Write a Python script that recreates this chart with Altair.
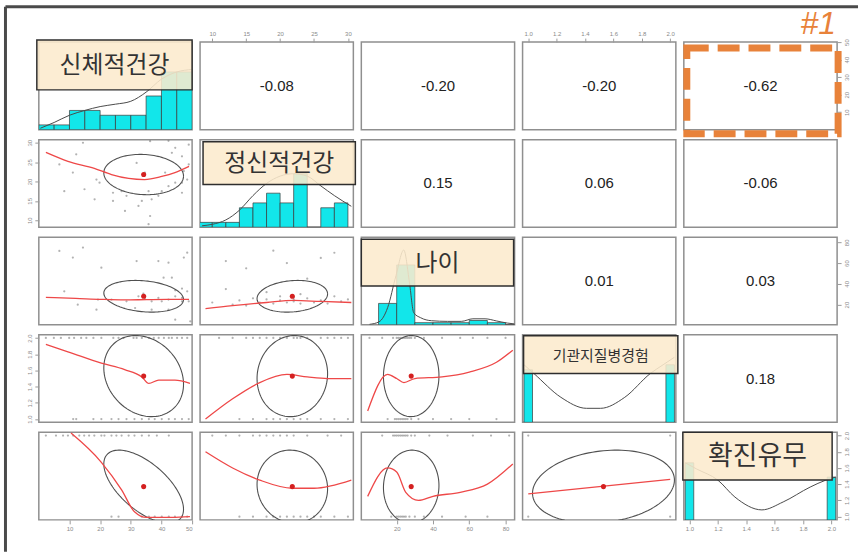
import altair as alt
import numpy as np
import pandas as pd

# ---------------------------------------------------------------------------
# Variables, plotting ranges and axis ticks
# ---------------------------------------------------------------------------
NAMES = ["신체적건강", "정신적건강", "나이", "기관지질병경험", "확진유무"]
DOMAIN = [[0, 50], [8.2, 30.8], [0.5, 85], [0.96, 2.04], [0.96, 2.04]]
TICKS = [[10, 20, 30, 40, 50], [10, 15, 20, 25, 30], [20, 40, 60, 80],
         [1.0, 1.2, 1.4, 1.6, 1.8, 2.0], [1.0, 1.2, 1.4, 1.6, 1.8, 2.0]]
MEAN = [34.2, 21.8, 28.0, 1.53, 1.37]
SD = [13.0, 5.2, 15.3, 0.50, 0.45]

# Pearson correlations (upper triangle)
CORR = {(0, 1): -0.08, (0, 2): -0.20, (0, 3): -0.20, (0, 4): -0.62,
        (1, 2): 0.15, (1, 3): 0.06, (1, 4): -0.06,
        (2, 3): 0.01, (2, 4): 0.03, (3, 4): 0.18}

# ---------------------------------------------------------------------------
# Histograms and density curves on the diagonal
# ---------------------------------------------------------------------------
HIST_BODY_EDGES = [0, 5, 10, 15, 20, 25, 30, 35, 40, 45, 50]
HIST_BODY_COUNTS = [1, 1, 4, 4, 3, 3, 3, 7, 12, 12]
HIST_MENTAL_EDGES = [8, 10, 12, 14, 16, 18, 20, 22, 24, 26, 28, 30]
HIST_MENTAL_COUNTS = [1, 1, 1, 4, 5, 7, 5, 11, 0, 4, 5]
HIST_AGE_EDGES = [10, 20, 30, 40, 50, 60, 70, 80, 90]
HIST_AGE_COUNTS = [10, 28, 1, 1, 1, 2, 1, 0]
HIST_BRONCH_EDGES = [[0.97, 1.03], [1.97, 2.03]]
HIST_BRONCH_COUNTS = [21, 23]
HIST_CONF_EDGES = [[0.97, 1.03], [1.97, 2.03]]
HIST_CONF_COUNTS = [28, 21]
HIST_YMAX = [18.2, 18.0, 41.0, 35.0, 43.0]

DENS_BODY_X = [0.5, 5, 10, 15, 20, 25, 30, 35, 40, 45, 50]
DENS_BODY_Y = [0.3, 1.5, 3.0, 4.0, 4.8, 5.3, 5.9, 7.8, 10.5, 12.0, 12.5]
DENS_MENTAL_X = [8.5, 10, 12, 14, 16, 18, 20, 22, 24, 26, 28, 30.5]
DENS_MENTAL_Y = [0.3, 0.6, 1.5, 3.5, 6.5, 9.0, 10.5, 11.0, 10.5, 8.5, 6.5, 4.3]
DENS_AGE_X = [5, 10.3, 15, 19.6, 23.9, 27, 29.4, 33.2, 39.2, 48, 55.6, 62, 68.7, 75, 81, 85]
DENS_AGE_Y = [0.2, 1.4, 8, 23, 35, 20, 5.6, 3.3, 1.9, 1.6, 1.6, 2.8, 2.8, 1.8, 0.8, 0.4]
DENS_BRONCH_X = [0.97, 1.04, 1.23, 1.41, 1.51, 1.68, 1.86, 1.95, 2.03]
DENS_BRONCH_Y = [23, 19.5, 10, 5.6, 5.6, 10, 19.5, 23, 26]
DENS_CONF_X = [0.97, 1.05, 1.2, 1.32, 1.51, 1.66, 1.85, 1.96, 2.03]
DENS_CONF_Y = [28, 25, 19.5, 11.2, 4.9, 8.8, 16.1, 19.5, 21]

# ---------------------------------------------------------------------------
# Scatter points of the lower panels: (x variable, y variable)
# ---------------------------------------------------------------------------
PTS_BODY_MENTAL = [(14.4, 30.0), (36.3, 30.4), (42.3, 30.5), (44.5, 28.7), (48.9, 29.5),
                   (12.2, 27.0), (43.4, 27.4), (46.7, 26.5), (31.9, 24.8), (6.7, 24.4),
                   (11.1, 22.3), (19.8, 19.7), (18.8, 20.5), (14.9, 18.0), (8.3, 17.5),
                   (24.2, 17.1), (27.0, 17.5), (35.8, 17.5), (40.1, 17.5), (42.3, 18.8),
                   (44.5, 19.7), (46.7, 19.7), (48.4, 20.5), (18.2, 15.4), (24.2, 15.0),
                   (28.6, 16.3), (33.6, 15.0), (36.8, 15.4), (32.5, 13.7), (28.1, 12.4),
                   (36.3, 11.1), (35.8, 9.0), (34.6, 22.3), (48.9, 24.4), (46.7, 17.1),
                   (39.0, 16.3), (41.2, 22.3), (47.3, 22.7)]
PTS_BODY_AGE = [(6.7, 71.7), (14.4, 75.0), (11.1, 65.3), (20.4, 55.6), (31.9, 62.0),
                (39.0, 62.0), (42.3, 60.4), (48.4, 70.1), (47.3, 65.3), (40.7, 45.9),
                (43.4, 45.9), (8.3, 32.8), (12.7, 19.9), (19.3, 24.8), (18.8, 15.1),
                (23.7, 24.8), (28.6, 23.1), (32.5, 28.0), (34.6, 26.4), (36.8, 23.1),
                (39.0, 26.4), (40.1, 23.1), (42.3, 24.8), (44.5, 28.0), (46.7, 26.4),
                (48.4, 32.8), (46.7, 23.1), (48.9, 23.1), (31.4, 16.7), (36.8, 15.1),
                (42.3, 15.1), (44.5, 5.4), (49.4, 3.8), (46.7, 35.4), (44.5, 33.8),
                (34.1, 30.6)]
PTS_MENTAL_AGE = [(10, 22), (12, 35), (13, 20), (14, 24), (15, 19), (16, 26), (17, 22),
                  (18, 25), (18, 32), (19, 21), (20, 24), (20, 28), (21, 22), (21, 60),
                  (22, 25), (22, 27), (22, 23), (23, 21), (23, 30), (24, 26), (25, 22),
                  (26, 24), (26, 65), (27, 21), (28, 28), (28, 70), (29, 23), (30, 25),
                  (15, 55), (19, 72), (24, 45), (12, 62)]
# binary outcomes: x values of the observations at level 2 and level 1
BODY_AT_BRONCH2 = [2.3, 4.9, 7.2, 9.9, 11.5, 13.8, 15.5, 17.8, 20.4, 24.3, 26.0, 27.6,
                   30.9, 31.9, 33.6, 35.9, 37.5, 39.1, 40.8, 42.4, 43.4, 45.1, 46.7, 48.4]
BODY_AT_BRONCH1 = [11.2, 12.2, 17.8, 20.4, 23.7, 26.0, 28.6, 31.2, 33.6, 35.9, 37.8,
                   40.1, 42.4, 44.4, 46.7, 48.9]
BODY_AT_CONF2 = [2.3, 5.6, 7.9, 9.5, 11.2, 13.2, 14.8, 16.4, 18.1, 20.4, 21.4, 23.7,
                 25.3, 27.0, 29.3, 31.2, 33.6, 35.9, 38.5, 42.4]
BODY_AT_CONF1 = [23.7, 26.0, 33.6, 35.9, 37.8, 40.1, 42.4, 44.4, 46.7, 48.4]
MENTAL_AT_BRONCH2 = [11, 13, 15, 16, 17, 18, 19, 20, 21, 22, 22.5, 23, 24, 26, 27, 28, 29, 30]
MENTAL_AT_BRONCH1 = [14, 16, 18, 19, 20, 21, 22, 23, 24, 26, 28, 30]
MENTAL_AT_CONF2 = [10, 12, 14, 16, 17, 18, 19, 20, 21, 22, 24, 27, 29]
MENTAL_AT_CONF1 = [14, 16, 18, 19, 20, 21, 22, 23, 24, 25, 26, 28, 30]
AGE_AT_BRONCH2 = [5, 12, 18, 20, 21, 22, 23, 24, 25, 26, 27, 28, 30, 35, 45, 55, 62, 70, 80]
AGE_AT_BRONCH1 = [15, 19, 20, 21, 22, 23, 24, 25, 26, 28, 32, 40, 50, 60, 75]
AGE_AT_CONF2 = [12, 18, 19, 20, 21, 22, 23, 24, 25, 26, 28, 30, 38, 48, 62, 72, 82]
AGE_AT_CONF1 = [17, 20, 21, 22, 23, 24, 25, 27, 30, 35, 45, 58, 70]
BRONCH_CONF_CELLS = [(1, 1), (1, 2), (2, 1), (2, 2)]

# ---------------------------------------------------------------------------
# Loess smooths of the lower panels
# ---------------------------------------------------------------------------
LOESS = {
    (1, 0): ([2.3, 9.5, 18.1, 23.7, 29.3, 34.5, 40.1, 44.4, 49.0],
             [27.5, 25.2, 23.4, 21.8, 20.8, 20.5, 21.3, 22.3, 23.9]),
    (2, 0): ([2.3, 12, 20.4, 28, 35.2, 42, 49], [27, 26, 25, 24.5, 24.8, 25, 25]),
    (2, 1): ([9, 13, 18, 22, 26, 30.5], [16, 19, 22, 24, 23, 22]),
    (3, 0): ([2.3, 9.5, 20.4, 28, 33.6, 35.9, 39.1, 44.4, 49.3],
             [1.92, 1.83, 1.69, 1.61, 1.52, 1.44, 1.48, 1.48, 1.44]),
    (3, 1): ([9, 13, 17, 21, 24, 27, 30.5], [1.0, 1.25, 1.45, 1.55, 1.52, 1.5, 1.5]),
    (3, 2): ([4, 15, 20, 24, 30, 45, 60, 75, 84],
             [1.1, 1.55, 1.5, 1.45, 1.5, 1.52, 1.58, 1.7, 1.85]),
    (4, 0): ([10.5, 20.4, 27, 31.2, 35.2, 43.4, 49.3], [2.03, 1.67, 1.33, 1.06, 0.99, 0.99, 1.0]),
    (4, 1): ([9, 13, 17, 21.8, 25, 30.5], [1.8, 1.6, 1.45, 1.35, 1.35, 1.45]),
    (4, 2): ([4, 15, 20, 25, 32, 40, 55, 70, 84],
             [1.25, 1.6, 1.55, 1.3, 1.2, 1.25, 1.3, 1.4, 1.65]),
    (4, 3): ([1.0, 2.0], [1.28, 1.46]),
}

# ---------------------------------------------------------------------------
# Styling
# ---------------------------------------------------------------------------
W, H = 154, 88
CYAN = "#12E6EA"
BEIGE = "#FCEBCD"
ORANGE = "#E8823A"
KFONT = "Noto Sans CJK KR"
# name box per diagonal panel: x0, x1, y0, y1 (panel pixels) and font size
NAME_BOX = [(-2, 154, -2, 48, 24), (3, 156, 2, 45, 24), (0, 153, 2, 49, 24),
            (1, 156, 1, 39, 15), (-1, 149, 0, 48, 27)]


def binary_points(at2, at1):
    return [(v, 2.0) for v in at2] + [(v, 1.0) for v in at1]


SCATTER = {
    (1, 0): PTS_BODY_MENTAL,
    (2, 0): PTS_BODY_AGE,
    (2, 1): PTS_MENTAL_AGE,
    (3, 0): binary_points(BODY_AT_BRONCH2, BODY_AT_BRONCH1),
    (3, 1): binary_points(MENTAL_AT_BRONCH2, MENTAL_AT_BRONCH1),
    (3, 2): binary_points(AGE_AT_BRONCH2, AGE_AT_BRONCH1),
    (4, 0): binary_points(BODY_AT_CONF2, BODY_AT_CONF1),
    (4, 1): binary_points(MENTAL_AT_CONF2, MENTAL_AT_CONF1),
    (4, 2): binary_points(AGE_AT_CONF2, AGE_AT_CONF1),
    (4, 3): BRONCH_CONF_CELLS,
}

HISTS = [
    (list(zip(HIST_BODY_EDGES[:-1], HIST_BODY_EDGES[1:])), HIST_BODY_COUNTS, DENS_BODY_X, DENS_BODY_Y),
    (list(zip(HIST_MENTAL_EDGES[:-1], HIST_MENTAL_EDGES[1:])), HIST_MENTAL_COUNTS, DENS_MENTAL_X, DENS_MENTAL_Y),
    (list(zip(HIST_AGE_EDGES[:-1], HIST_AGE_EDGES[1:])), HIST_AGE_COUNTS, DENS_AGE_X, DENS_AGE_Y),
    (HIST_BRONCH_EDGES, HIST_BRONCH_COUNTS, DENS_BRONCH_X, DENS_BRONCH_Y),
    (HIST_CONF_EDGES, HIST_CONF_COUNTS, DENS_CONF_X, DENS_CONF_Y),
]


def make_axis(orient, k):
    vertical = orient in ("left", "right")
    return alt.Axis(orient=orient, values=TICKS[k], format=".1f" if k >= 3 else "d",
                    title=None, grid=False, domain=False, tickSize=4, tickColor="#9a9a9a",
                    tickWidth=1, labelFontSize=6, labelColor="#8a8a8a", labelPadding=2,
                    labelFont="Liberation Sans", labelAngle=-90 if vertical else 0)


def scale(k):
    return alt.Scale(domain=DOMAIN[k], nice=False, zero=False)


def x_axis(i, j):
    if i == 0 and j in (1, 3):
        return make_axis("top", j)
    if i == 4 and j in (0, 2, 4):
        return make_axis("bottom", j)
    return None


def y_axis(i, j):
    if j == 0 and i in (1, 3):
        return make_axis("left", i)
    if j == 4 and i in (0, 2):
        return make_axis("right", i)
    return None


def X(i, j, field="x"):
    return alt.X(f"{field}:Q", scale=scale(j), axis=x_axis(i, j))


def Y(i, j, field="y"):
    return alt.Y(f"{field}:Q", scale=scale(i), axis=y_axis(i, j))


ONE = pd.DataFrame({"a": [0]})


def upper_panel(i, j):
    r = CORR[(i, j)]
    df = pd.DataFrame({"x": [sum(DOMAIN[j]) / 2], "y": [sum(DOMAIN[i]) / 2],
                       "t": [f"{r:.2f}"]})
    layers = [alt.Chart(df).mark_text(font="Liberation Sans", fontSize=15, color="#222")
              .encode(x=X(i, j), y=Y(i, j), text="t:N")]
    if (i, j) == (0, 4):
        layers.append(alt.Chart(ONE).mark_rect(filled=False, stroke=ORANGE, strokeWidth=7,
                                               strokeDash=[22, 9])
                      .encode(x=alt.value(3), x2=alt.value(155), y=alt.value(6), y2=alt.value(92)))
        layers.append(alt.Chart(ONE).mark_text(text="#1", font="Liberation Sans", fontSize=32,
                                               fontStyle="italic", color=ORANGE,
                                               baseline="alphabetic", align="center")
                      .encode(x=alt.value(135), y=alt.value(-8)))
    return alt.layer(*layers).properties(width=W, height=H)


def diag_panel(k):
    bins, counts, dx, dy = HISTS[k]
    hist = pd.DataFrame({"x0": [b[0] for b in bins], "x1": [b[1] for b in bins],
                         "c": counts, "b": [0] * len(counts)})
    dens = pd.DataFrame({"x": dx, "c": dy})
    yscale = alt.Scale(domain=[0, HIST_YMAX[k]], nice=False, zero=True)
    xa = x_axis(k, k)
    bars = alt.Chart(hist).mark_rect(color=CYAN, stroke="#3a3a3a", strokeWidth=0.7, clip=True).encode(
        x=alt.X("x0:Q", scale=scale(k), axis=xa), x2="x1:Q",
        y=alt.Y("c:Q", scale=yscale, axis=None), y2="b:Q")
    line = alt.Chart(dens).mark_line(color="#4a4a4a", strokeWidth=1, clip=True,
                                     interpolate="monotone").encode(
        x=alt.X("x:Q", scale=scale(k), axis=xa),
        y=alt.Y("c:Q", scale=yscale, axis=None))
    bx0, bx1, by0, by1, fs = NAME_BOX[k]
    box = alt.Chart(ONE).mark_rect(fill=BEIGE, fillOpacity=0.88, stroke="#2e2e2e",
                                   strokeWidth=1.5).encode(
        x=alt.value(bx0), x2=alt.value(bx1), y=alt.value(by0), y2=alt.value(by1))
    label = alt.Chart(ONE).mark_text(text=NAMES[k], font=KFONT, fontSize=fs, color="#333",
                                     align="center", baseline="middle").encode(
        x=alt.value((bx0 + bx1) / 2), y=alt.value((by0 + by1) / 2 + 1))
    layers = [bars, line, box, label]
    chart = alt.layer(*layers)
    if k == 4:
        ax = alt.Chart(pd.DataFrame({"v": [1.0, 2.0]})).mark_point(opacity=0).encode(
            y=alt.Y("v:Q", scale=scale(4), axis=make_axis("right", 4)))
        chart = alt.layer(*layers, ax).resolve_scale(y="independent")
    return chart.properties(width=W, height=H)


def lower_panel(i, j):
    r = CORR[(j, i)]
    pts = pd.DataFrame(SCATTER[(i, j)], columns=["x", "y"])
    # one-standard-deviation correlation ellipse around the means
    t = np.linspace(0, 2 * np.pi, 121)
    ell = pd.DataFrame({"k": np.arange(t.size),
                        "x": MEAN[j] + SD[j] * np.cos(t),
                        "y": MEAN[i] + SD[i] * (r * np.cos(t) + np.sqrt(1 - r * r) * np.sin(t))})
    lx, ly = LOESS[(i, j)]
    lo = pd.DataFrame({"x": lx, "y": ly})
    mean = pd.DataFrame({"x": [MEAN[j]], "y": [MEAN[i]]})
    layers = [
        alt.Chart(pts).mark_circle(size=5, color="#666", opacity=0.5, clip=True)
        .encode(x=X(i, j), y=Y(i, j)),
        alt.Chart(ell).mark_line(color="#505050", strokeWidth=1.1, clip=True)
        .encode(x=X(i, j), y=Y(i, j), order="k:Q"),
        alt.Chart(lo).mark_line(color="#EE4848", strokeWidth=1.3, clip=True, interpolate="monotone")
        .encode(x=X(i, j), y=Y(i, j)),
        alt.Chart(mean).mark_circle(size=26, color="#D42020", opacity=1)
        .encode(x=X(i, j), y=Y(i, j)),
    ]
    return alt.layer(*layers).properties(width=W, height=H)


panels = []
for i in range(5):
    for j in range(5):
        if i < j:
            p = upper_panel(i, j)
        elif i == j:
            p = diag_panel(i)
        else:
            p = lower_panel(i, j)
        if (i, j) == (0, 0):
            # outer frame drawn relative to the first panel
            frame_top = alt.Chart(ONE).mark_rule(color="#4a4a4a", strokeWidth=3).encode(
                x=alt.value(-33.5), x2=alt.value(823), y=alt.value(-35.5))
            frame_left = alt.Chart(ONE).mark_rule(color="#4a4a4a", strokeWidth=3).encode(
                x=alt.value(-33.5), y=alt.value(-35.5), y2=alt.value(512))
            p = alt.layer(p, frame_top, frame_left)
        panels.append(p)

chart = alt.concat(*panels, columns=5, spacing={"row": 10, "column": 8}, bounds="flush").properties(
    padding={"left": 3, "top": 3, "right": 0, "bottom": 0}, background="white"
).configure_view(stroke="#8f8f8f", strokeWidth=1.5)

chart.save("out.html", embed_options={"renderer": "svg", "actions": False})
